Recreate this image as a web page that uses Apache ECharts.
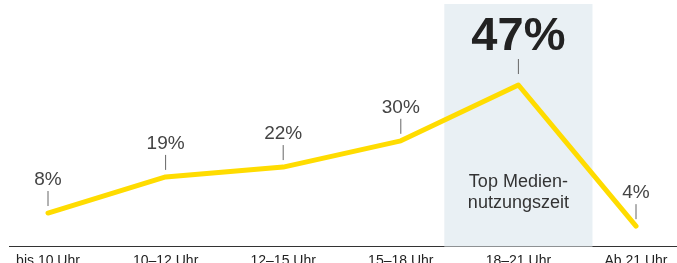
<!DOCTYPE html>
<html>
<head>
<meta charset="utf-8">
<script src="https://cdn.jsdelivr.net/npm/echarts@6/dist/echarts.min.js"></script>
<style>
  html, body { margin: 0; padding: 0; background: #fff; }
  #chart { width: 677px; height: 263px; }
</style>
</head>
<body>
<div id="chart"></div>
<script>
// Mediennutzung nach Tageszeit
var categories = ['bis 10 Uhr', '10–12 Uhr', '12–15 Uhr', '15–18 Uhr', '18–21 Uhr', 'Ab 21 Uhr'];
var values = [8, 19, 22, 30, 47, 4];
var highlightIndex = 4;
var highlightText = 'Top Medien-\nnutzungszeit';

var yMin = -2.2;
var yMax = 72.6;
var fontFamily = '"Liberation Sans", Arial, Helvetica, sans-serif';

var chart = echarts.init(document.getElementById('chart'));

var pointData = values.map(function (v, i) { return [i, v]; });

function renderHighlight(params, api) {
    var c = api.coord([api.value(0), 71.7]);
    var bottom = api.coord([api.value(0), yMin])[1];
    var band = api.size([1, 0])[0];
    var half = band * 0.63;
    var textPos = api.coord([api.value(0), 14.3]);
    return {
        type: 'group',
        children: [
            {
                type: 'rect',
                shape: { x: c[0] - half, y: c[1], width: half * 2, height: bottom - c[1] },
                style: { fill: '#E9F0F4' }
            },
            {
                type: 'text',
                style: {
                    text: highlightText,
                    x: textPos[0],
                    y: textPos[1],
                    align: 'center',
                    verticalAlign: 'middle',
                    font: '18px ' + fontFamily,
                    lineHeight: 21,
                    fill: '#333'
                }
            }
        ]
    };
}

function renderLabel(params, api) {
    var p = api.coord([api.value(0), api.value(1)]);
    var big = params.dataIndex === highlightIndex;
    return {
        type: 'group',
        children: [
            {
                type: 'line',
                shape: { x1: p[0], y1: p[1] - (big ? 26 : 22), x2: p[0], y2: p[1] - (big ? 11 : 7) },
                style: { stroke: '#666', lineWidth: 1 }
            },
            {
                type: 'text',
                style: {
                    text: api.value(1) + '%',
                    x: p[0],
                    y: p[1] - (big ? 48 : 33),
                    align: 'center',
                    verticalAlign: 'middle',
                    font: big ? 'bold 47px ' + fontFamily : '19px ' + fontFamily,
                    fill: big ? '#222' : '#444'
                }
            }
        ]
    };
}

var option = {
    animation: false,
    grid: { left: 48, right: 41, top: 1, bottom: 16.5, outerBoundsMode: 'none', containLabel: false },
    xAxis: {
        type: 'category',
        data: categories,
        boundaryGap: false,
        axisLine: { show: false },
        axisTick: { show: false },
        axisLabel: {
            margin: 8,
            color: '#222',
            fontSize: 14,
            fontFamily: fontFamily,
            interval: 0
        }
    },
    yAxis: {
        type: 'value',
        min: yMin,
        max: yMax,
        show: false
    },
    graphic: [{
        type: 'line',
        shape: { x1: 9, y1: 246.5, x2: 677, y2: 246.5 },
        style: { stroke: '#333', lineWidth: 1 }
    }],
    series: [
        {
            type: 'custom',
            z: 1,
            data: [[highlightIndex]],
            renderItem: renderHighlight
        },
        {
            type: 'line',
            z: 3,
            data: values,
            symbol: 'none',
            lineStyle: { color: '#FFDC00', width: 5, cap: 'round', join: 'round' }
        },
        {
            type: 'custom',
            z: 4,
            data: pointData,
            renderItem: renderLabel
        }
    ]
};

chart.setOption(option);
</script>
</body>
</html>
